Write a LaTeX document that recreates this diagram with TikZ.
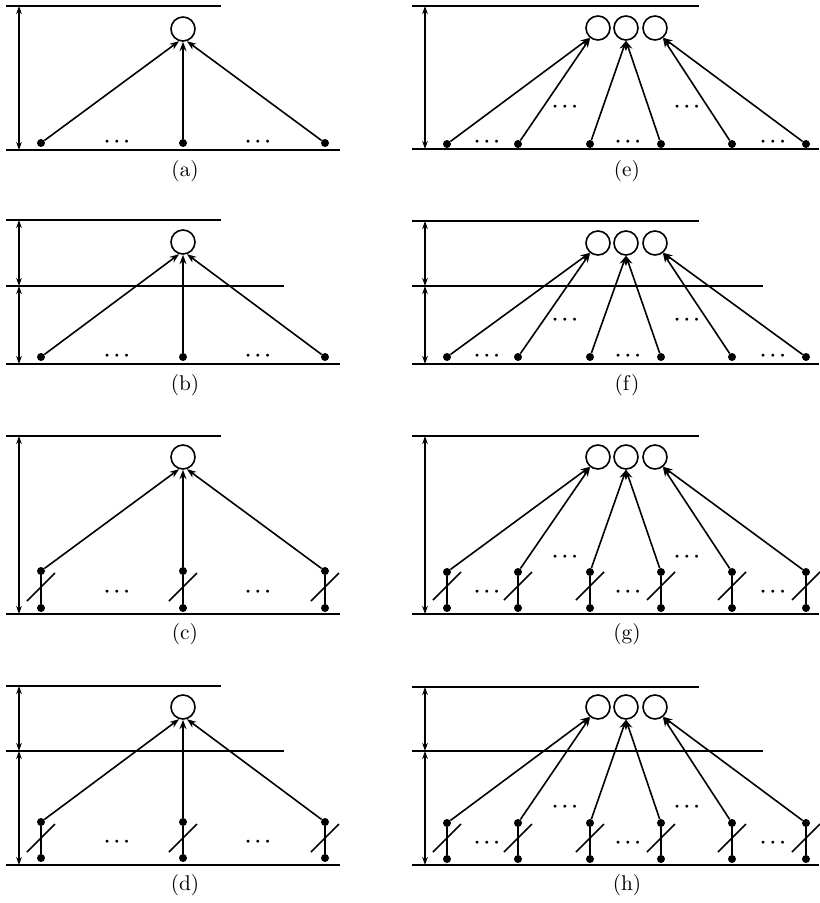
\documentclass[tikz,border=0pt]{standalone}
\usetikzlibrary{arrows.meta}
\font\capfont=cmr10 at 16pt
\tikzset{
  hl/.style={line width=1.2pt},
  dimarrow/.style={{Stealth[length=6pt,width=4.2pt]}-{Stealth[length=6pt,width=4.2pt]}, line width=1pt},
  unit/.style={circle, draw, line width=1.2pt, minimum size=18pt, inner sep=0pt},
  dotnode/.style={circle, fill, inner sep=0pt, minimum size=6pt},
  conn/.style={-{Stealth[length=7pt,width=5.2pt]}, line width=1.2pt},
  slashln/.style={line width=1.2pt},
  captext/.style={font=\capfont, inner sep=0pt},
  ell/.style={font=\fontsize{14}{16}\selectfont\boldmath, inner sep=0pt}
}
% dimension arrow
\newcommand\DimArr[4]{%
  \coordinate (#1a) at (#2,#3);
  \coordinate (#1b) at (#2,#4);
  \draw[dimarrow] (#1a) -- (#1b);}
% left panel core: prefix, ytop, ybot, ycirc, ydot
\newcommand\LeftCore[5]{%
  \draw[hl] (6,#2) -- (221,#2);
  \draw[hl] (6,#3) -- (340,#3);
  \node[unit] (#1c) at (183,#4) {};
  \foreach \x/\n/\a in {41/1/252,183/2/270,325/3/288}{
    \node[dotnode] (#1d\n) at (\x,#5) {};
    \draw[conn] (#1d\n) -- (#1c.\a);
  }}
% left lower dots with slash: prefix, ylower, yslash
\newcommand\LeftLower[3]{%
  \foreach \x/\n in {41/1,183/2,325/3}{
    \node[dotnode] (#1l\n) at (\x,#2) {};
    \draw[hl] (#1d\n) -- (#1l\n);
    \draw[slashln] (\x-14,#3+14) -- (\x+14,#3-14);
  }}
% right panel core
\newcommand\RightCore[5]{%
  \draw[hl] (412,#2) -- (699,#2);
  \draw[hl] (412,#3) -- (819,#3);
  \node[unit] (#1c1) at (598,#4) {};
  \node[unit] (#1c2) at (626,#4) {};
  \node[unit] (#1c3) at (655,#4) {};
  \foreach \x/\n/\c/\a in {447/1/1/230,518/2/1/232,590/3/2/270,661/4/2/270,732/5/3/308,806/6/3/310}{
    \node[dotnode] (#1d\n) at (\x,#5) {};
    \draw[conn] (#1d\n) -- (#1c\c.\a);
  }}
\newcommand\RightLower[3]{%
  \foreach \x/\n in {447/1,518/2,590/3,661/4,732/5,806/6}{
    \node[dotnode] (#1l\n) at (\x,#2) {};
    \draw[hl] (#1d\n) -- (#1l\n);
    \draw[slashln] (\x-14,#3+14) -- (\x+14,#3-14);
  }}
\newcommand\LeftEll[2]{%
  \node[ell] (#1e1) at (117,#2) {$\cdots$};
  \node[ell] (#1e2) at (258,#2) {$\cdots$};}
\newcommand\RightEll[3]{%
  \node[ell] (#1e1) at (487,#2) {$\cdots$};
  \node[ell] (#1e2) at (628,#2) {$\cdots$};
  \node[ell] (#1e3) at (773,#2) {$\cdots$};
  \node[ell] (#1m1) at (565,#3) {$\cdots$};
  \node[ell] (#1m2) at (687,#3) {$\cdots$};}
\begin{document}
\begin{tikzpicture}[x=0.75pt,y=-0.75pt]
\useasboundingbox (0,0) rectangle (819,903);

% ---------- (a)
\LeftCore{a}{6}{150}{29}{143}
\DimArr{aD}{19}{6}{150}
\LeftEll{a}{142}
\node[captext] (acap) at (185,171) {(a)};

% ---------- (b)
\LeftCore{b}{220}{364}{242}{357}
\draw[hl] (6,286) -- (284,286);
\DimArr{bD}{19}{220}{286}
\DimArr{bE}{19}{286}{364}
\LeftEll{b}{356}
\node[captext] (bcap) at (185,385) {(b)};

% ---------- (c)
\LeftCore{c}{436}{614}{457}{571}
\LeftLower{c}{608}{587}
\DimArr{cD}{19}{436}{614}
\LeftEll{c}{592}
\node[captext] (ccap) at (185,634) {(c)};

% ---------- (d)
\LeftCore{d}{686}{865}{707}{822}
\LeftLower{d}{858}{838}
\draw[hl] (6,751) -- (284,751);
\DimArr{dD}{19}{686}{751}
\DimArr{dE}{19}{751}{865}
\LeftEll{d}{842}
\node[captext] (dcap) at (185,885) {(d)};

% ---------- (e)
\RightCore{e}{6}{149}{28}{144}
\DimArr{eD}{425}{6}{149}
\RightEll{e}{142}{107}
\node[captext] (ecap) at (627,171) {(e)};

% ---------- (f)
\RightCore{f}{221}{364}{243}{357}
\draw[hl] (412,286) -- (763,286);
\DimArr{fD}{425}{221}{286}
\DimArr{fE}{425}{286}{364}
\RightEll{f}{356}{320}
\node[captext] (fcap) at (627,385) {(f)};

% ---------- (g)
\RightCore{g}{436}{614}{457}{572}
\RightLower{g}{608}{586}
\DimArr{gD}{425}{436}{614}
\RightEll{g}{592}{557}
\node[captext] (gcap) at (627,634) {(g)};

% ---------- (h)
\RightCore{h}{687}{865}{707}{823}
\RightLower{h}{859}{838}
\draw[hl] (412,751) -- (763,751);
\DimArr{hD}{425}{687}{751}
\DimArr{hE}{425}{751}{865}
\RightEll{h}{843}{807}
\node[captext] (hcap) at (627,885) {(h)};
\end{tikzpicture}
\end{document}
